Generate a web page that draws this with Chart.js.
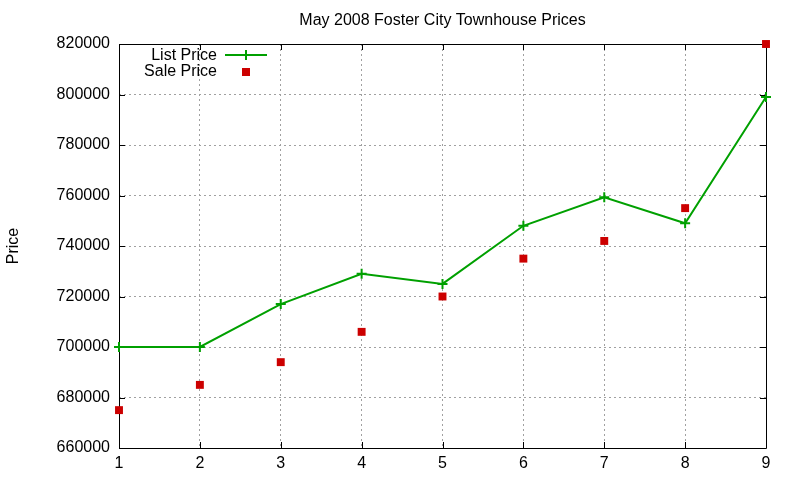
<!DOCTYPE html>
<html>
<head>
<meta charset="utf-8">
<script src="https://cdn.jsdelivr.net/npm/chart.js@4.4.0/dist/chart.umd.min.js"></script>
<style>
html,body{margin:0;padding:0;background:#fff;}
#wrap{width:800px;height:480px;}
</style>
</head>
<body>
<div id="wrap"><canvas id="c" width="800" height="480"></canvas></div>
<script>
const chartTitle = 'May 2008 Foster City Townhouse Prices';
const yAxisTitle = 'Price';
const xValues = [1, 2, 3, 4, 5, 6, 7, 8, 9];
const listPrice = [700000, 700000, 717000, 729000, 725000, 748000, 759300, 749000, 799000];
const salePrice = [675000, 685000, 694000, 706000, 720000, 735000, 742000, 755000, 820000];
const seriesNames = ['List Price', 'Sale Price'];
const yMin = 660000, yMax = 820000, yStep = 20000;
const xMin = 1, xMax = 9, xStep = 1;

const GREEN = '#00a000';
const RED = '#cc0000';
const FONT = "'Liberation Sans', Arial, sans-serif";

const framePlugin = {
  id: 'frame',
  beforeDatasetsDraw(chart) {
    const ctx = chart.ctx;
    const a = chart.chartArea;
    const xs = chart.scales.x, ys = chart.scales.y;
    ctx.save();
    ctx.strokeStyle = '#000';
    ctx.lineWidth = 1;
    ctx.setLineDash([]);
    ctx.beginPath();
    ctx.rect(Math.round(a.left) + 0.5, Math.round(a.top) + 0.5, Math.round(a.right - a.left), Math.round(a.bottom - a.top));
    ctx.stroke();
    // inward ticks
    const tl = 6;
    ctx.beginPath();
    for (let v = yMin; v <= yMax; v += yStep) {
      const py = Math.round(ys.getPixelForValue(v)) + 0.5;
      ctx.moveTo(a.left, py); ctx.lineTo(a.left + tl, py);
      ctx.moveTo(a.right, py); ctx.lineTo(a.right - tl, py);
    }
    for (let v = xMin; v <= xMax; v += xStep) {
      const px = Math.round(xs.getPixelForValue(v)) + 0.5;
      ctx.moveTo(px, a.bottom); ctx.lineTo(px, a.bottom - tl);
      ctx.moveTo(px, a.top); ctx.lineTo(px, a.top + tl);
    }
    ctx.stroke();
    ctx.restore();
  },
  afterDatasetsDraw(chart) {
    const ctx = chart.ctx;
    const a = chart.chartArea;
    ctx.save();
    // title centred over the plot area
    ctx.font = '16px ' + FONT;
    ctx.fillStyle = '#000';
    ctx.textAlign = 'center';
    ctx.textBaseline = 'middle';
    ctx.fillText(chartTitle, (a.left + a.right) / 2, 21);
    // legend (gnuplot style: text then sample)
    ctx.textAlign = 'right';
    const tx = 217, y1 = 55, y2 = 71;
    ctx.fillText(seriesNames[0], tx, y1 + 1);
    ctx.fillText(seriesNames[1], tx, y2 + 1);
    ctx.strokeStyle = GREEN;
    ctx.lineWidth = 2;
    ctx.beginPath();
    ctx.moveTo(225, y1); ctx.lineTo(267, y1);
    ctx.moveTo(246, y1 - 5); ctx.lineTo(246, y1 + 5);
    ctx.stroke();
    ctx.fillStyle = RED;
    ctx.fillRect(242, y2 - 3, 8, 8);
    ctx.restore();
  }
};

new Chart(document.getElementById('c'), {
  type: 'line',
  data: {
    datasets: [
      {
        label: seriesNames[0],
        data: xValues.map((x, i) => ({x: x, y: listPrice[i]})),
        borderColor: GREEN,
        backgroundColor: GREEN,
        borderWidth: 2,
        pointStyle: 'cross',
        pointRadius: 5,
        pointBorderWidth: 2,
        pointBorderColor: GREEN,
        tension: 0,
        fill: false,
        clip: false,
        order: 1
      },
      {
        label: seriesNames[1],
        data: xValues.map((x, i) => ({x: x, y: salePrice[i]})),
        showLine: false,
        borderColor: RED,
        backgroundColor: RED,
        pointStyle: 'rect',
        pointRadius: 5.6,
        pointBorderWidth: 0,
        clip: false,
        order: 2
      }
    ]
  },
  options: {
    responsive: false,
    animation: false,
    devicePixelRatio: 1,
    layout: { padding: { left: 0, right: 34, top: 44, bottom: 0 } },
    plugins: {
      legend: { display: false },
      tooltip: { enabled: false },
      title: { display: false }
    },
    scales: {
      x: {
        type: 'linear',
        min: xMin, max: xMax,
        grid: { color: '#a0a0a0', lineWidth: 1, drawTicks: false },
        border: { display: false, dash: [2, 3] },
        ticks: {
          stepSize: xStep, color: '#000', padding: 6,
          font: { family: FONT, size: 16 },
          maxRotation: 0
        },
        afterFit(s) { s.height = 32; }
      },
      y: {
        type: 'linear',
        min: yMin, max: yMax,
        grid: { color: '#a0a0a0', lineWidth: 1, drawTicks: false },
        border: { display: false, dash: [2, 3] },
        ticks: {
          stepSize: yStep, color: '#000', padding: 9,
          font: { family: FONT, size: 16 },
          callback: v => String(v)
        },
        title: {
          display: true, text: yAxisTitle, color: '#000',
          font: { family: FONT, size: 16 },
          padding: { top: 4, bottom: 0 }
        },
        afterFit(s) { s.width = 119; }
      }
    }
  },
  plugins: [framePlugin]
});
</script>
</body>
</html>
